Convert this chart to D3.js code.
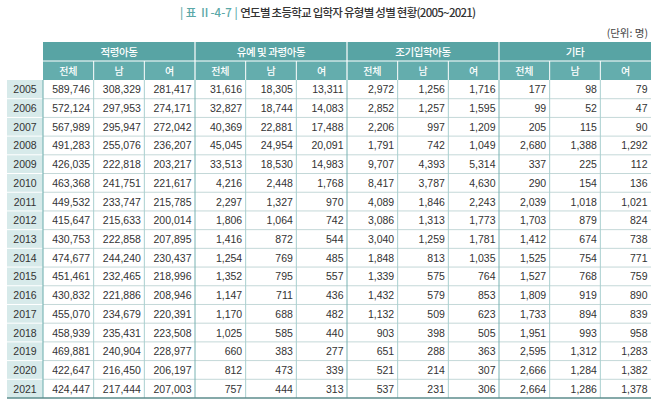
<!DOCTYPE html>
<html><head><meta charset="utf-8">
<script src="https://cdn.jsdelivr.net/npm/d3@7"></script>
<style>
html,body{margin:0;padding:0;background:#fff;}
svg{display:block;}
</style></head>
<body>
<svg id="chart" width="658" height="406"></svg>
<script>
const years = [2005,2006,2007,2008,2009,2010,2011,2012,2013,2014,2015,2016,2017,2018,2019,2020,2021];
const groups = ["적령아동","유예 및 과령아동","조기입학아동","기타"];
const subHeaders = ["전체","남","여"];
const ageTotal  = [589746,572124,567989,491283,426035,463368,449532,415647,430753,474677,451461,430832,455070,458939,469881,422647,424447];
const ageMale   = [308329,297953,295947,255076,222818,241751,233747,215633,222858,244240,232465,221886,234679,235431,240904,216450,217444];
const ageFemale = [281417,274171,272042,236207,203217,221617,215785,200014,207895,230437,218996,208946,220391,223508,228977,206197,207003];
const lateTotal  = [31616,32827,40369,45045,33513,4216,2297,1806,1416,1254,1352,1147,1170,1025,660,812,757];
const lateMale   = [18305,18744,22881,24954,18530,2448,1327,1064,872,769,795,711,688,585,383,473,444];
const lateFemale = [13311,14083,17488,20091,14983,1768,970,742,544,485,557,436,482,440,277,339,313];
const earlyTotal  = [2972,2852,2206,1791,9707,8417,4089,3086,3040,1848,1339,1432,1132,903,651,521,537];
const earlyMale   = [1256,1257,997,742,4393,3787,1846,1313,1259,813,575,579,509,398,288,214,231];
const earlyFemale = [1716,1595,1209,1049,5314,4630,2243,1773,1781,1035,764,853,623,505,363,307,306];
const otherTotal  = [177,99,205,2680,337,290,2039,1703,1412,1525,1527,1809,1733,1951,2595,2666,2664];
const otherMale   = [98,52,115,1388,225,154,1018,879,674,754,768,919,894,993,1312,1284,1286];
const otherFemale = [79,47,90,1292,112,136,1021,824,738,771,759,890,839,958,1283,1382,1378];
const titleTag = "| 표 Ⅱ-4-7 |";
const titleText = "연도별 초등학교 입학자 유형별 성별 현황(2005~2021)";
const unitText = "(단위: 명)";

const columns = [ageTotal,ageMale,ageFemale,lateTotal,lateMale,lateFemale,earlyTotal,earlyMale,earlyFemale,otherTotal,otherMale,otherFemale];

const svg = d3.select("#chart");
const FONT = "'Noto Sans CJK KR', 'Noto Sans', sans-serif";
const NUMFONT = "'Liberation Sans', Arial, sans-serif";

const left = 7, yearRight = 43, right = 651;
const hTop = 42, h1Bot = 61, h2Bot = 80, bottom = 398;

const x = d3.scaleBand().domain(d3.range(12)).range([yearRight, right]);
const gx = d3.scaleBand().domain(groups).range([yearRight, right]);
const y = d3.scaleBand().domain(years).range([h2Bot, bottom]);
const fmt = d3.format(",");

// Title
const t = svg.append("text").attr("x", 180).attr("y", 17)
  .attr("font-family", FONT).attr("font-size", 11.5);
t.append("tspan").attr("fill", "#5aa8a8").attr("font-weight", 500).text(titleTag + " ");
t.append("tspan").attr("fill", "#333").attr("font-weight", 500).attr("letter-spacing", -0.75).text(titleText);

svg.append("text").attr("x", 648).attr("y", 37).attr("text-anchor", "end")
  .attr("font-family", FONT).attr("font-size", 10.5).attr("fill", "#444").text(unitText);

// Header rows
svg.append("rect").attr("x", yearRight).attr("y", hTop).attr("width", right - yearRight).attr("height", h1Bot - hTop).attr("fill", "#58a4a4");
svg.append("rect").attr("x", yearRight).attr("y", h1Bot).attr("width", right - yearRight).attr("height", h2Bot - h1Bot).attr("fill", "#64adad");
svg.append("line").attr("x1", yearRight).attr("x2", right).attr("y1", h1Bot).attr("y2", h1Bot).attr("stroke", "#fff").attr("stroke-width", 1.2);

groups.forEach((g, i) => {
  if (i > 0) svg.append("line").attr("x1", gx(g)).attr("x2", gx(g)).attr("y1", hTop).attr("y2", h2Bot).attr("stroke", "#fff").attr("stroke-width", 1.2);
  svg.append("text").attr("x", gx(g) + gx.bandwidth() / 2).attr("y", (hTop + h1Bot) / 2 + 4)
    .attr("text-anchor", "middle").attr("font-family", FONT).attr("font-size", 10.5).attr("letter-spacing", -0.4).attr("font-weight", 500)
    .attr("fill", "#fff").text(g);
});
d3.range(12).forEach(c => {
  if (c % 3 !== 0) svg.append("line").attr("x1", x(c)).attr("x2", x(c)).attr("y1", h1Bot).attr("y2", h2Bot).attr("stroke", "#fff").attr("stroke-width", 1);
  svg.append("text").attr("x", x(c) + x.bandwidth() / 2).attr("y", (h1Bot + h2Bot) / 2 + 4)
    .attr("text-anchor", "middle").attr("font-family", FONT).attr("font-size", 10).attr("font-weight", 500)
    .attr("fill", "#fff").text(subHeaders[c % 3]);
});

// Year column background
svg.append("rect").attr("x", left).attr("y", h2Bot).attr("width", yearRight - left).attr("height", bottom - h2Bot).attr("fill", "#d7eaea");

// Horizontal row lines
years.forEach((yr, i) => {
  if (i === 0) return;
  svg.append("line").attr("x1", left).attr("x2", yearRight).attr("y1", y(yr)).attr("y2", y(yr)).attr("stroke", "#fff").attr("stroke-width", 1);
  svg.append("line").attr("x1", yearRight).attr("x2", right).attr("y1", y(yr)).attr("y2", y(yr)).attr("stroke", "#c4d8d8").attr("stroke-width", 1);
});

// Vertical lines in body
d3.range(12).forEach(c => {
  if (c === 0) return;
  const isGroup = c % 3 === 0;
  svg.append("line").attr("x1", x(c)).attr("x2", x(c)).attr("y1", h2Bot).attr("y2", bottom)
    .attr("stroke", isGroup ? "#78b2b2" : "#a9cfcf").attr("stroke-width", 1);
});
svg.append("line").attr("x1", yearRight).attr("x2", yearRight).attr("y1", h2Bot).attr("y2", bottom).attr("stroke", "#7fb7b7").attr("stroke-width", 1.2);

// Years
svg.append("g").selectAll("text").data(years).join("text")
  .attr("x", (left + yearRight) / 2).attr("y", d => y(d) + y.bandwidth() / 2 + 4)
  .attr("text-anchor", "middle").attr("font-family", NUMFONT).attr("font-size", 10.5).attr("fill", "#333").text(d => d);

// Values
columns.forEach((col, c) => {
  svg.append("g").selectAll("text").data(col).join("text")
    .attr("x", x(c) + x.bandwidth() - 3.5).attr("y", (d, i) => y(years[i]) + y.bandwidth() / 2 + 4)
    .attr("text-anchor", "end").attr("font-family", NUMFONT).attr("font-size", 10.5).attr("fill", "#333").text(d => fmt(d));
});

// Bottom border
svg.append("line").attr("x1", left).attr("x2", right).attr("y1", bottom).attr("y2", bottom).attr("stroke", "#5d8c8c").attr("stroke-width", 1.5);
</script>
</body></html>
